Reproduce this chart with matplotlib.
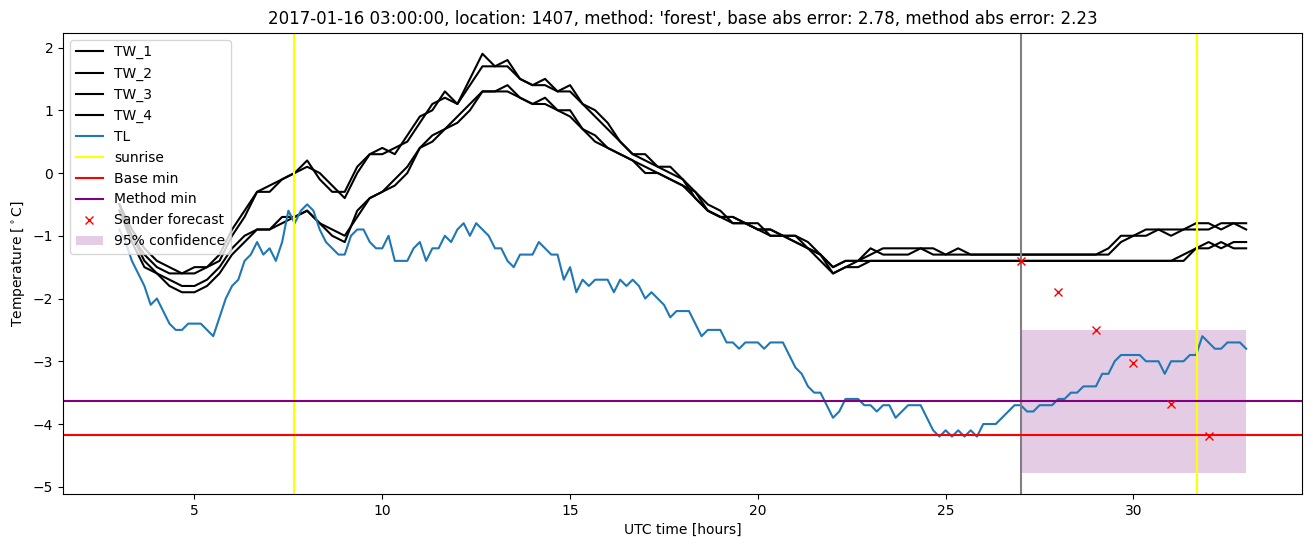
import numpy as np
import matplotlib
matplotlib.use("Agg")
import matplotlib.pyplot as plt

# TL every 10 minutes from 03:00 (hour 3) to 33:00
tl = [-0.9, -1.1, -1.4, -1.6, -1.8, -2.1,
      -2.0, -2.2, -2.4, -2.5, -2.5, -2.4,
      -2.4, -2.4, -2.5, -2.6, -2.3, -2.0,
      -1.8, -1.7, -1.4, -1.3, -1.1, -1.3,
      -1.2, -1.4, -1.1, -0.6, -0.8, -0.6,
      -0.5, -0.6, -0.9, -1.1, -1.2, -1.3,
      -1.3, -1.0, -0.9, -0.9, -1.1, -1.2,
      -1.2, -1.0, -1.4, -1.4, -1.4, -1.2,
      -1.1, -1.4, -1.2, -1.2, -1.0, -1.1,
      -0.9, -0.8, -1.0, -0.8, -0.9, -1.0,
      -1.2, -1.2, -1.4, -1.5, -1.3, -1.3,
      -1.3, -1.1, -1.2, -1.3, -1.3, -1.7,
      -1.5, -1.9, -1.7, -1.8, -1.7, -1.7,
      -1.7, -1.9, -1.7, -1.8, -1.7, -1.8,
      -2.0, -1.9, -2.0, -2.1, -2.3, -2.2,
      -2.2, -2.2, -2.4, -2.6, -2.5, -2.5,
      -2.5, -2.7, -2.7, -2.8, -2.7, -2.7,
      -2.7, -2.8, -2.7, -2.7, -2.7, -2.9,
      -3.1, -3.2, -3.4, -3.5, -3.5, -3.7,
      -3.9, -3.8, -3.6, -3.6, -3.6, -3.7,
      -3.7, -3.8, -3.7, -3.7, -3.9, -3.8,
      -3.7, -3.7, -3.7, -3.9, -4.1, -4.2,
      -4.1, -4.2, -4.1, -4.2, -4.1, -4.2,
      -4.0, -4.0, -4.0, -3.9, -3.8, -3.7,
      -3.7, -3.8, -3.8, -3.7, -3.7, -3.7,
      -3.6, -3.6, -3.5, -3.5, -3.4, -3.4,
      -3.4, -3.2, -3.2, -3.0, -2.9, -2.9,
      -2.9, -2.9, -3.0, -3.0, -3.0, -3.2,
      -3.0, -3.0, -3.0, -2.9, -2.9, -2.6,
      -2.7, -2.8, -2.8, -2.7, -2.7, -2.7,
      -2.8]

# TW sensors every 20 minutes from 03:00 to 33:00
tw_1 = [-0.5, -0.9, -1.2, -1.4, -1.5, -1.6, -1.5, -1.5, -1.4, -1.0, -0.7, -0.3,
        -0.2, -0.1, 0.0, 0.2, -0.1, -0.3, -0.3, 0.1, 0.3, 0.4, 0.3, 0.6,
        0.9, 1.0, 1.3, 1.1, 1.5, 1.9, 1.7, 1.8, 1.5, 1.4, 1.5, 1.3,
        1.3, 1.1, 0.9, 0.7, 0.5, 0.3, 0.2, 0.1, 0.0, -0.1, -0.4, -0.6,
        -0.7, -0.7, -0.8, -0.9, -0.9, -1.0, -1.0, -1.2, -1.3, -1.5, -1.4, -1.4,
        -1.3, -1.2, -1.2, -1.2, -1.2, -1.3, -1.3, -1.3, -1.3, -1.3, -1.3, -1.3,
        -1.3, -1.3, -1.3, -1.3, -1.3, -1.3, -1.3, -1.3, -1.1, -1.0, -0.9, -0.9,
        -0.9, -0.9, -0.8, -0.8, -0.9, -0.8, -0.9]
tw_2 = [-0.5, -1.0, -1.3, -1.5, -1.6, -1.6, -1.6, -1.5, -1.3, -0.9, -0.6, -0.3,
        -0.3, -0.1, 0.0, 0.1, 0.0, -0.2, -0.4, 0.0, 0.3, 0.3, 0.4, 0.5,
        0.8, 1.1, 1.2, 1.1, 1.4, 1.7, 1.7, 1.7, 1.5, 1.4, 1.4, 1.3,
        1.4, 1.1, 1.0, 0.8, 0.5, 0.3, 0.3, 0.1, 0.1, -0.1, -0.3, -0.5,
        -0.6, -0.8, -0.8, -0.8, -1.0, -1.0, -1.1, -1.2, -1.3, -1.5, -1.4, -1.4,
        -1.2, -1.3, -1.3, -1.3, -1.2, -1.2, -1.3, -1.2, -1.3, -1.3, -1.3, -1.3,
        -1.3, -1.3, -1.3, -1.3, -1.3, -1.3, -1.3, -1.2, -1.0, -1.0, -1.0, -0.9,
        -1.0, -0.9, -0.9, -0.9, -0.8, -0.8, -0.8]
tw_3 = [-0.6, -1.0, -1.4, -1.6, -1.8, -1.9, -1.9, -1.8, -1.6, -1.3, -1.1, -0.9,
        -0.9, -0.7, -0.7, -0.6, -0.8, -1.0, -1.1, -0.6, -0.4, -0.3, -0.2, 0.0,
        0.4, 0.5, 0.7, 0.8, 1.0, 1.3, 1.3, 1.4, 1.2, 1.1, 1.2, 1.0,
        1.0, 0.7, 0.6, 0.4, 0.3, 0.2, 0.0, 0.0, -0.1, -0.2, -0.4, -0.6,
        -0.7, -0.8, -0.8, -0.9, -1.0, -1.0, -1.1, -1.2, -1.4, -1.6, -1.5, -1.5,
        -1.4, -1.4, -1.4, -1.4, -1.4, -1.4, -1.4, -1.4, -1.4, -1.4, -1.4, -1.4,
        -1.4, -1.4, -1.4, -1.4, -1.4, -1.4, -1.4, -1.4, -1.4, -1.4, -1.4, -1.4,
        -1.4, -1.4, -1.2, -1.1, -1.2, -1.1, -1.1]
tw_4 = [-0.6, -1.1, -1.5, -1.6, -1.7, -1.8, -1.8, -1.7, -1.5, -1.2, -1.0, -0.9,
        -0.9, -0.8, -0.7, -0.6, -0.8, -0.9, -1.0, -0.7, -0.4, -0.3, -0.1, 0.1,
        0.4, 0.6, 0.7, 0.9, 1.1, 1.3, 1.3, 1.3, 1.2, 1.1, 1.1, 1.0,
        0.9, 0.7, 0.5, 0.4, 0.3, 0.2, 0.1, 0.0, -0.1, -0.2, -0.3, -0.6,
        -0.7, -0.7, -0.8, -0.9, -0.9, -1.0, -1.0, -1.1, -1.3, -1.6, -1.5, -1.4,
        -1.4, -1.4, -1.4, -1.4, -1.4, -1.4, -1.4, -1.4, -1.4, -1.4, -1.4, -1.4,
        -1.4, -1.4, -1.4, -1.4, -1.4, -1.4, -1.4, -1.4, -1.4, -1.4, -1.4, -1.4,
        -1.4, -1.3, -1.2, -1.2, -1.1, -1.2, -1.2]

sunrise = [7.66, 31.68]
forecast_time = 27.0
base_min = -4.18
method_min = -3.64
sander_hours = [27, 28, 29, 30, 31, 32]
sander_values = [-1.4, -1.89, -2.5, -3.02, -3.68, -4.19]
conf_hours = [27, 33]
conf_low = -4.78
conf_high = -2.5

t_tl = 3 + np.arange(len(tl)) / 6
t_tw = 3 + np.arange(len(tw_1)) / 3

fig, ax = plt.subplots(figsize=(13.13, 5.47), dpi=100)
ax.plot(t_tw, tw_1, color='black', label='TW_1')
ax.plot(t_tw, tw_2, color='black', label='TW_2')
ax.plot(t_tw, tw_3, color='black', label='TW_3')
ax.plot(t_tw, tw_4, color='black', label='TW_4')
ax.plot(t_tl, tl, color='tab:blue', label='TL')
ax.axvline(sunrise[0], color='yellow', label='sunrise')
ax.axvline(sunrise[1], color='yellow')
ax.axvline(forecast_time, color='gray')
ax.axhline(base_min, color='red', label='Base min')
ax.axhline(method_min, color='purple', label='Method min')
ax.plot(sander_hours, sander_values, 'rx', label='Sander forecast')
ax.fill_between(conf_hours, conf_low, conf_high, color='purple', alpha=0.2,
                linewidth=0, label='95% confidence')

ax.set_title("2017-01-16 03:00:00, location: 1407, method: 'forest', "
             "base abs error: 2.78, method abs error: 2.23")
ax.set_xlabel('UTC time [hours]')
ax.set_ylabel(r'Temperature [$^\circ$C]')
ax.legend(loc='upper left')
fig.subplots_adjust(left=0.048, right=0.992, top=0.94, bottom=0.097)
fig.savefig('out.png')
